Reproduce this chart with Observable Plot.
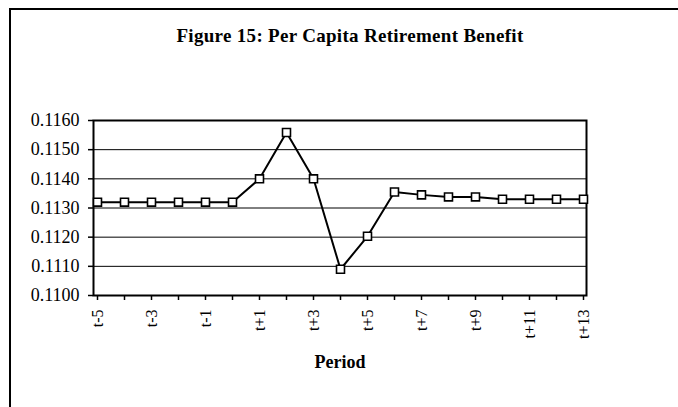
<!DOCTYPE html>
<html>
<head>
<meta charset="utf-8">
<script src="https://cdn.jsdelivr.net/npm/d3@7"></script>
<script src="https://cdn.jsdelivr.net/npm/@observablehq/plot@0.6"></script>
<style>
  html, body { margin: 0; padding: 0; background: #fff; }
  #wrap { position: relative; width: 678px; height: 407px; overflow: hidden; }
  #border { position: absolute; left: 9px; top: 8px; width: 700px; height: 420px;
            border-top: 2px solid #000; border-left: 2px solid #000; }
  #title { position: absolute; left: 0; top: 25px; width: 700px; text-align: center;
           font-family: "Liberation Serif", "Times New Roman", serif; font-weight: bold; font-size: 19px; letter-spacing: 0.3px; color: #000; }
  #chart { position: absolute; left: 0; top: 0; }
  #chart svg { font-family: "Liberation Serif", "Times New Roman", serif; }
  g[aria-label="x-axis label"] text { font-weight: bold; font-size: 18px; }
</style>
</head>
<body>
<div id="wrap">
  <div id="border"></div>
  <div id="title">Figure 15: Per Capita Retirement Benefit</div>
  <div id="chart"></div>
</div>
<script>
const periods = ["t-5","t-4","t-3","t-2","t-1","t","t+1","t+2","t+3","t+4","t+5","t+6","t+7","t+8","t+9","t+10","t+11","t+12","t+13"];
const benefit = [0.1132,0.1132,0.1132,0.1132,0.1132,0.1132,0.1140,0.11559,0.1140,0.1109,0.11203,0.11355,0.11345,0.11338,0.11338,0.1133,0.1133,0.1133,0.1133];
const yTicks = [0.110,0.111,0.112,0.113,0.114,0.115,0.116];

const data = periods.map((p, i) => ({period: p, value: benefit[i]}));

const chart = Plot.plot({
  width: 678,
  height: 407,
  marginLeft: 93,
  marginRight: 92,
  marginTop: 120,
  marginBottom: 112,
  style: {fontSize: "16px", background: "transparent", color: "#000"},
  x: {type: "point", domain: periods, padding: 0},
  y: {domain: [0.110, 0.116]},
  marks: [
    Plot.gridY(yTicks, {stroke: "#000", strokeOpacity: 1, strokeWidth: 1}),
    Plot.frame({stroke: "#000", strokeWidth: 2}),
    Plot.axisY({ticks: yTicks, tickFormat: d3.format(".4f"), tickSize: 5, tickPadding: 9, label: null, fontSize: 18, strokeWidth: 1.5}),
    Plot.axisX({tickSize: 5, tickPadding: 9, tickRotate: -90, fontSize: 16,
      tickFormat: (d, i) => (periods.indexOf(d) % 2 === 0 ? d : ""),
      label: "Period", labelAnchor: "center", labelArrow: "none", labelOffset: 72, strokeWidth: 1.5}),
    Plot.line(data, {x: "period", y: "value", stroke: "#000", strokeWidth: 2}),
    Plot.dot(data, {x: "period", y: "value", symbol: "square", r: 4.5, fill: "#fff", stroke: "#000", strokeWidth: 1.6})
  ]
});
document.getElementById("chart").appendChild(chart);
</script>
</body>
</html>
